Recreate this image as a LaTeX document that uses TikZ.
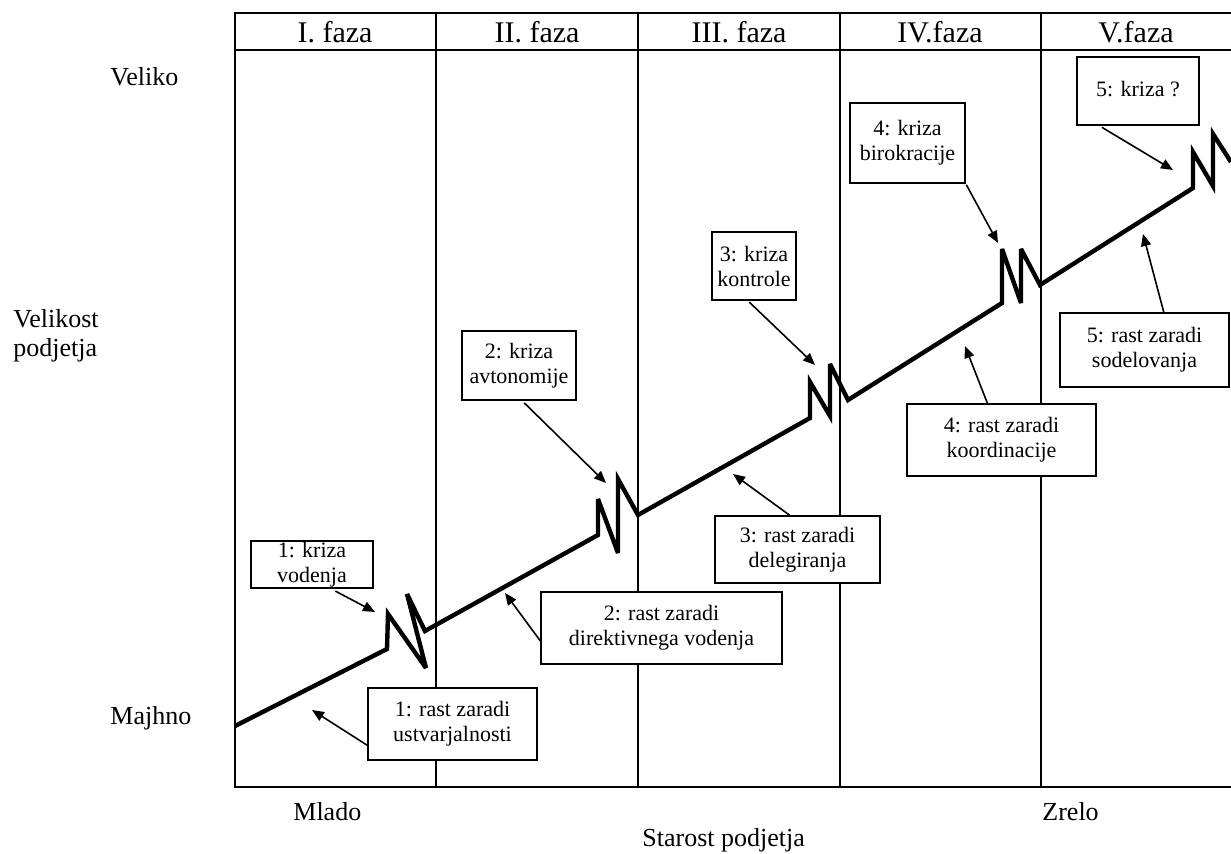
\documentclass[tikz,border=0pt]{standalone}
\usepackage{fontspec}
\setmainfont{Liberation Serif}
\usetikzlibrary{arrows.meta}
\tikzset{
  box/.style={draw, fill=white, line width=0.8pt, align=center, inner sep=0pt, font=\fontsize{11}{12.5}\selectfont},
  arr/.style={line width=0.8pt, -{Triangle[length=6pt,width=5pt]}},
  faza/.style={font=\fontsize{15}{18}\selectfont},
  os/.style={font=\fontsize{13}{14.5}\selectfont, align=left, anchor=west, inner sep=0pt}
}
\begin{document}
\begin{tikzpicture}[x=0.5pt,y=-0.5pt]
    \useasboundingbox (0,0) rectangle (1231,854);
    \draw[line width=1pt] (1231,13) -- (235,13) -- (235,787) -- (1231,787);
    \draw[line width=1pt] (235,50) -- (1231,50);
    \foreach \x in {436,638,840,1041}
        \draw[line width=1pt] (\x,13) -- (\x,787);
    \node[faza] (f1) at (335,32) {I. faza};
    \node[faza] (f2) at (537,32) {II. faza};
    \node[faza] (f3) at (739,32) {III. faza};
    \node[faza] (f4) at (940,32) {IV.faza};
    \node[faza] (f5) at (1136,32) {V.faza};
    \node[os] (veliko) at (110,77) {Veliko};
    \node[os] (velikost) at (13,336) {Velikost\\podjetja};
    \node[os] (majhno) at (110,718) {Majhno};
    \node[os] (mlado) at (293,812) {Mlado};
    \node[os] (zrelo) at (1042,812) {Zrelo};
    \node[os] (starost) at (642,840) {Starost podjetja};
    \draw[line width=2.2pt, miter limit=4] (235,726) -- (387,649) -- (388,614) -- (426,668) -- (407,594) -- (425,631)
        -- (598,535) -- (598,499) -- (618,553) -- (618,479) -- (638,515)
        -- (810,418) -- (810,382) -- (830,416) -- (830,364) -- (848,400)
        -- (1002,303) -- (1002,249) -- (1021,303) -- (1021,249) -- (1040,285)
        -- (1193,188) -- (1193,152) -- (1213,186) -- (1213,134) -- (1231,162);
    \node[box, minimum width=61pt, minimum height=23.5pt] (k1) at (312,564.5) {1: kriza\\vodenja};
    \node[box, minimum width=57pt, minimum height=34.5pt] (k2) at (519,365.5) {2: kriza\\avtonomije};
    \node[box, minimum width=42pt, minimum height=34pt] (k3) at (754,266) {3: kriza\\kontrole};
    \node[box, minimum width=57.5pt, minimum height=40pt] (k4) at (907.5,143) {4: kriza\\birokracije};
    \node[box, minimum width=61pt, minimum height=34pt] (k5) at (1138,91) {\raisebox{2.5pt}{5: kriza ?}};
    \node[box, minimum width=84.5pt, minimum height=36pt] (r1) at (452.5,724) {1: rast zaradi\\ustvarjalnosti};
    \node[box, minimum width=120.5pt, minimum height=36pt] (r2) at (661.5,628) {2: rast zaradi\\direktivnega vodenja};
    \node[box, minimum width=82.5pt, minimum height=33.5pt] (r3) at (797.5,549.5) {3: rast zaradi\\delegiranja};
    \node[box, minimum width=94.5pt, minimum height=36pt] (r4) at (1001.5,440) {4: rast zaradi\\koordinacije};
    \node[box, minimum width=84.5pt, minimum height=37pt] (r5) at (1144.5,350) {5: rast zaradi\\sodelovanja};
    \coordinate (tk1) at (375,612);
    \coordinate (tk2) at (606,483);
    \coordinate (tk3) at (815,365);
    \coordinate (tk4) at (998,243);
    \coordinate (tk5) at (1173,170);
    \coordinate (tr1) at (312,710);
    \coordinate (tr2) at (505,593);
    \coordinate (tr3) at (733,474);
    \coordinate (tr4) at (965,346);
    \coordinate (tr5) at (1143,234);
    \draw[arr, shorten <=2.5pt] (k1.-52) -- (tk1);
    \draw[arr, shorten <=1.5pt] (k2.-85) -- (tk2);
    \draw[arr, shorten <=1pt] (k3.-100) -- (tk3);
    \draw[arr, shorten <=0.5pt] (k4.-35) -- (tk4);
    \draw[arr, shorten <=1.5pt] (k5.-138) -- (tk5);
    \draw[arr] (r1.194) -- (tr1);
    \draw[arr] (r2.186) -- (tr2);
    \draw[arr] (r3.103) -- (tr3);
    \draw[arr] (r4.111) -- (tr4);
    \draw[arr] (r5.63) -- (tr5);
\end{tikzpicture}
\end{document}
